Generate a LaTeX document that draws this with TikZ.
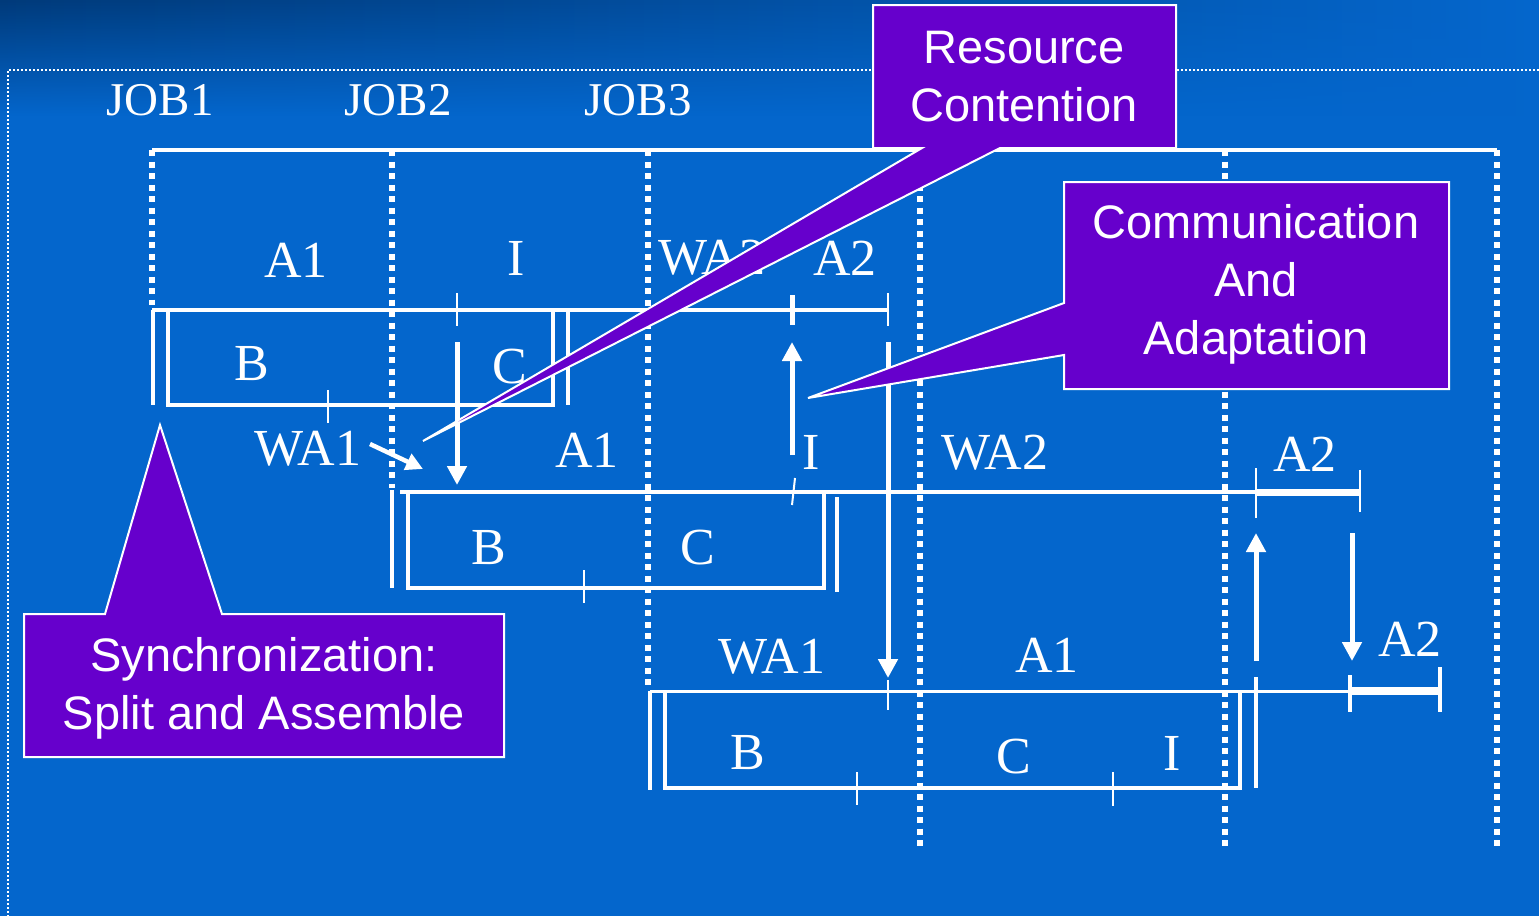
\documentclass[tikz,border=0pt]{standalone}
\usepackage{fontspec}
\setmainfont{Liberation Serif}
\newfontfamily\calloutfont{Liberation Sans}
\usetikzlibrary{arrows.meta,fadings}
\definecolor{bgblue}{RGB}{4,102,204}
\definecolor{bgdark}{RGB}{0,58,122}
\definecolor{callpurple}{RGB}{102,0,204}
\begin{document}
\begin{tikzpicture}[x=1pt,y=-1pt,
  joblbl/.style={text=white, inner sep=0pt, font=\fontsize{47}{52}\selectfont},
  lbl/.style={text=white, inner sep=0pt, font=\fontsize{52}{56}\selectfont},
  callbox/.style={fill=callpurple, draw=white, line width=2pt, line join=miter},
  calltext/.style={text=white, align=center, inner sep=0pt, font=\calloutfont\fontsize{47}{58}\selectfont},
  vdots/.style={white, line width=6pt, dash pattern=on 6pt off 5.5pt},
  bar/.style={white, line width=4.5pt},
  boxline/.style={white, line width=4pt, line join=miter},
  tick/.style={white, line width=2pt},
  arr/.style={white, line width=5pt, -{Triangle[width=19pt,length=19pt]}},
]
% background
\fill[bgblue] (0,0) rectangle (1539,916);
\shade[left color=bgdark, right color=bgblue, path fading=south] (0,0) rectangle (1539,115);
\useasboundingbox (0,0) rectangle (1539,916);
\draw[white, line width=2pt, dash pattern=on 2pt off 2pt] (1539,70) -- (8,70) -- (8,916);

% job labels
\node[joblbl] (job1) at (160,100) {JOB1};
\node[joblbl] (job2) at (398,100) {JOB2};
\node[joblbl] (job3) at (638,100) {JOB3};

% top axis and dotted separators
\draw[bar] (152,150) -- (1497,150);
\draw[vdots] (152,150) -- (152,305);
\draw[vdots] (392,150) -- (392,488);
\draw[vdots] (648,150) -- (648,688);
\draw[vdots] (920,150) -- (920,850);
\draw[vdots] (1225,150) -- (1225,848);
\draw[vdots] (1497,150) -- (1497,850);

% ---- row 1 (JOB1)
\draw[bar] (152,310) -- (888,310);
\draw[boxline] (168,310) -- (168,405) -- (553,405) -- (553,310);
\draw[boxline] (153,310) -- (153,405);
\draw[boxline] (568,310) -- (568,405);
\draw[tick] (457,293) -- (457,326);
\draw[white, line width=5pt] (792,295) -- (792,325);
\draw[tick] (888,293) -- (888,326);
\draw[tick] (328,390) -- (328,423);

\node[lbl] (r1a1) at (296,260) {A1};
\node[lbl] (r1i) at (516,258) {I};
\node[lbl] (r1wa2) at (712,258) {WA2};
\node[lbl] (r1a2) at (845,258) {A2};
\node[lbl] (r1b) at (252,364) {B};
\node[lbl] (r1c) at (510,367) {C};

% ---- row 2 (JOB2)
\draw[bar] (400,492) -- (1256,492);
\draw[white, line width=7pt] (1256,492) -- (1360,492);
\draw[boxline] (408,492) -- (408,588) -- (824,588) -- (824,492);
\draw[boxline] (392,490) -- (392,588);
\draw[boxline] (837,497) -- (837,592);
\draw[tick] (795,478) -- (792,505);
\draw[tick] (1256,468) -- (1256,518);
\draw[tick] (1360,470) -- (1360,512);
\draw[tick] (584,570) -- (584,603);

\node[lbl] (r2wa1) at (308,449) {WA1};
\node[lbl] (r2a1) at (587,450) {A1};
\node[lbl] (r2i) at (811,452) {I};
\node[lbl] (r2b) at (489,548) {B};
\node[lbl] (r2c) at (698,548) {C};
\node[lbl] (r2wa2) at (995,453) {WA2};
\node[lbl] (r2a2) at (1305,454) {A2};

% ---- row 3 (JOB3)
\draw[white, line width=3pt] (650,691) -- (1350,691);
\draw[white, line width=8pt] (1350,691) -- (1440,691);
\draw[white, line width=3.5pt, line join=miter] (665,691) -- (665,788) -- (1240,788) -- (1240,691);
\draw[boxline] (650,691) -- (650,790);
\draw[boxline] (1256,677) -- (1256,788);
\draw[tick] (888,680) -- (888,710);
\draw[tick] (857,772) -- (857,805);
\draw[tick] (1113,772) -- (1113,806);
\draw[white, line width=4pt] (1350,675) -- (1350,712);
\draw[white, line width=4pt] (1440,667) -- (1440,712);

\node[lbl] (r3wa1) at (772,657) {WA1};
\node[lbl] (r3a1) at (1047,655) {A1};
\node[lbl] (r3a2) at (1410,639) {A2};
\node[lbl] (r3b) at (748,753) {B};
\node[lbl] (r3c) at (1014,757) {C};
\node[lbl] (r3i) at (1172,753) {I};

% ---- arrows
\coordinate (a1s) at (457,342); \coordinate (a1e) at (457,485);
\coordinate (a2s) at (792,455); \coordinate (a2e) at (792,342);
\coordinate (a3s) at (888,342); \coordinate (a3e) at (888,678);
\coordinate (a4s) at (1256,661); \coordinate (a4e) at (1256,533);
\coordinate (a5s) at (1352,533); \coordinate (a5e) at (1352,661);
\coordinate (wa1s) at (370,444); \coordinate (wa1e) at (423,469);
\draw[arr] (a1s) -- (a1e);
\draw[arr] (a2s) -- (a2e);
\draw[arr] (a3s) -- (a3e);
\draw[arr] (a4s) -- (a4e);
\draw[arr] (a5s) -- (a5e);
\draw[white, line width=4.5pt, -{Triangle[width=17pt,length=17pt]}] (wa1s) -- (wa1e);

% ---- callouts
\filldraw[callbox] (873,5) -- (1176,5) -- (1176,148) -- (1000,148) -- (423,441) -- (922,148) -- (873,148) -- cycle;
\node[calltext] (rc) at (1024,77) {Resource\\Contention};

\filldraw[callbox] (1064,182) -- (1449,182) -- (1449,389) -- (1064,389) -- (1064,355) -- (808,398) -- (1064,303) -- cycle;
\node[calltext] (ca) at (1256,284) {Communication\\And\\Adaptation};

\filldraw[callbox] (24,614) -- (105,614) -- (160,425) -- (222,614) -- (504,614) -- (504,757) -- (24,757) -- cycle;
\node[calltext] (sy) at (264,688) {Synchronization:\\Split and Assemble};
\end{tikzpicture}
\end{document}
